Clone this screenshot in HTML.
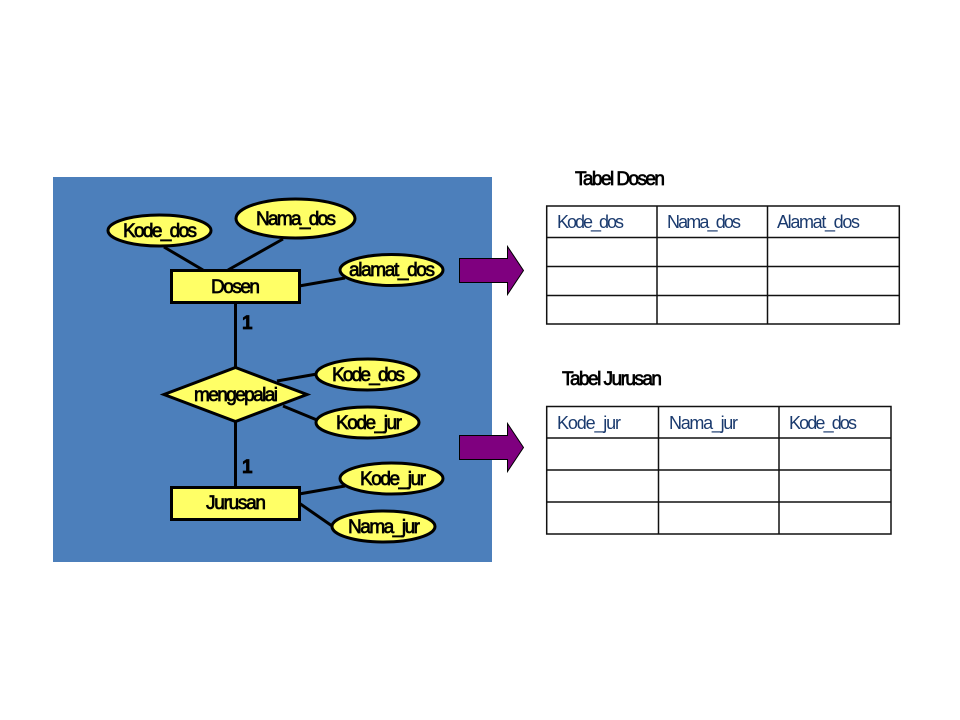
<!DOCTYPE html>
<html>
<head>
<meta charset="utf-8">
<style>
html,body{margin:0;padding:0;background:#fff;}
svg{display:block;}
text{font-family:"Liberation Sans",sans-serif;}
.b{font-size:19px;fill:#000;stroke:#000;stroke-width:.7px;}
.t{font-size:18px;fill:#1a3a6e;}
.s{fill:#ffff66;stroke:#000;stroke-width:3;}
.l{stroke:#000;stroke-width:3;fill:none;}
.g{stroke:#111;stroke-width:1.5;fill:none;}
</style>
</head>
<body>
<svg width="960" height="720" viewBox="0 0 960 720" xmlns="http://www.w3.org/2000/svg">
<rect x="0" y="0" width="960" height="720" fill="#fff"/>
<rect x="53" y="177" width="439" height="385" fill="#4c7fbb"/>

<line class="l" x1="164" y1="247" x2="203" y2="270"/>
<line class="l" x1="283" y1="239" x2="228" y2="270"/>
<line class="l" x1="299" y1="286" x2="345" y2="278"/>
<line class="l" x1="235.5" y1="303" x2="235.5" y2="368"/>
<line class="l" x1="277" y1="381" x2="317" y2="374"/>
<line class="l" x1="283" y1="406" x2="317" y2="420"/>
<line class="l" x1="235.5" y1="422" x2="235.5" y2="488"/>
<line class="l" x1="299" y1="494" x2="345" y2="486"/>
<line class="l" x1="299" y1="503" x2="335" y2="528"/>

<ellipse class="s" cx="159.5" cy="230.5" rx="51.5" ry="15.5"/>
<ellipse class="s" cx="295.5" cy="218.5" rx="59.5" ry="19.5"/>
<ellipse class="s" cx="391.5" cy="270" rx="51.5" ry="15.5"/>
<rect class="s" x="171.5" y="270.5" width="128" height="32"/>
<polygon class="s" points="235.5,367.5 307,394.5 235.5,421.5 164,394.5"/>
<ellipse class="s" cx="367.5" cy="374.5" rx="51.5" ry="15.5"/>
<ellipse class="s" cx="367.5" cy="422.5" rx="51.5" ry="15.5"/>
<rect class="s" x="171.5" y="487.5" width="128" height="32"/>
<ellipse class="s" cx="391.5" cy="478.5" rx="51.5" ry="15.5"/>
<ellipse class="s" cx="383.5" cy="526.5" rx="51.5" ry="15.5"/>

<text class="b" x="123" y="237" textLength="74">Kode_dos</text>
<text class="b" x="256" y="225" textLength="80">Nama_dos</text>
<text class="b" x="349" y="276" textLength="86">alamat_dos</text>
<text class="b" x="211" y="293" textLength="49">Dosen</text>
<text class="b" x="242" y="329" style="font-weight:bold">1</text>
<text class="b" x="194" y="401" textLength="84">mengepalai</text>
<text class="b" x="332" y="381" textLength="73">Kode_dos</text>
<text class="b" x="336" y="429" textLength="66">Kode_jur</text>
<text class="b" x="242" y="473" style="font-weight:bold">1</text>
<text class="b" x="206" y="509" textLength="60">Jurusan</text>
<text class="b" x="360" y="485" textLength="66">Kode_jur</text>
<text class="b" x="348" y="533" textLength="72">Nama_jur</text>

<polygon points="459.5,258.5 507.5,258.5 507.5,246.5 523.5,270.5 507.5,294.5 507.5,282.5 459.5,282.5" fill="#7f007f" stroke="#000" stroke-width="1"/>
<polygon points="459.5,435.5 507.5,435.5 507.5,423.5 523.5,447.5 507.5,471.5 507.5,459.5 459.5,459.5" fill="#7f007f" stroke="#000" stroke-width="1"/>

<text class="b" x="575" y="185" textLength="90">Tabel Dosen</text>
<text class="b" x="562" y="385" textLength="100">Tabel Jurusan</text>

<rect class="g" x="546.7" y="206" width="352.6" height="118"/>
<line class="g" x1="657" y1="206" x2="657" y2="324"/>
<line class="g" x1="767.5" y1="206" x2="767.5" y2="324"/>
<line class="g" x1="546.7" y1="237.5" x2="899.3" y2="237.5"/>
<line class="g" x1="546.7" y1="266.5" x2="899.3" y2="266.5"/>
<line class="g" x1="546.7" y1="295.5" x2="899.3" y2="295.5"/>
<text class="t" x="557" y="228" textLength="67">Kode_dos</text>
<text class="t" x="667" y="228" textLength="74">Nama_dos</text>
<text class="t" x="777" y="228" textLength="83">Alamat_dos</text>

<rect class="g" x="546.7" y="406.5" width="344.3" height="127.5"/>
<line class="g" x1="658.5" y1="406.5" x2="658.5" y2="534"/>
<line class="g" x1="779" y1="406.5" x2="779" y2="534"/>
<line class="g" x1="546.7" y1="438" x2="891" y2="438"/>
<line class="g" x1="546.7" y1="470" x2="891" y2="470"/>
<line class="g" x1="546.7" y1="502" x2="891" y2="502"/>
<text class="t" x="557" y="429" textLength="64">Kode_jur</text>
<text class="t" x="669" y="429" textLength="69">Nama_jur</text>
<text class="t" x="789" y="429" textLength="68">Kode_dos</text>
</svg>
</body>
</html>
